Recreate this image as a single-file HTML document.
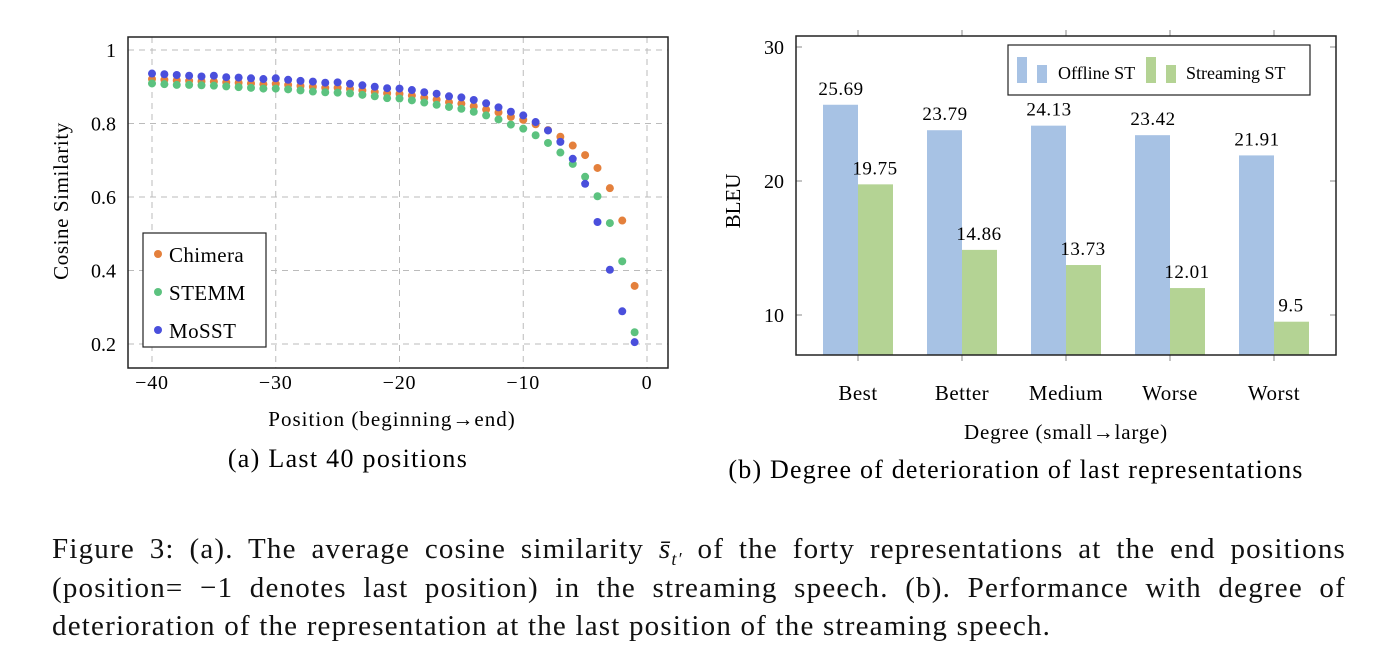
<!DOCTYPE html>
<html><head><meta charset="utf-8"><style>
body{margin:0;background:#fff;width:1396px;height:662px;overflow:hidden;font-family:"Liberation Serif",serif}
svg{position:absolute;left:0;top:0}
.cap{position:absolute;left:52px;width:1294px;top:530px;font-size:29px;letter-spacing:1.2px;line-height:38.5px;color:#111}
.cap div{height:38.5px;white-space:nowrap}
.j{text-align:justify;text-align-last:justify}
sub{font-size:18px;line-height:0}
</style></head><body>
<svg id="svg" width="1396" height="662" font-family="Liberation Serif, serif"></svg>
<div class="cap">
<div class="j">Figure 3: (a). The average cosine similarity <i>s̄<sub>t′</sub></i> of the forty representations at the end positions</div>
<div class="j">(position= −1 denotes last position) in the streaming speech. (b). Performance with degree of</div>
<div>deterioration of the representation at the last position of the streaming speech.</div>
</div>
<script>
const positions=[-40,-39,-38,-37,-36,-35,-34,-33,-32,-31,-30,-29,-28,-27,-26,-25,-24,-23,-22,-21,-20,-19,-18,-17,-16,-15,-14,-13,-12,-11,-10,-9,-8,-7,-6,-5,-4,-3,-2,-1];
const chimera=[.921,.919,.917,.916,.915,.914,.912,.911,.909,.907,.908,.905,.902,.900,.897,.897,.894,.890,.886,.882,.881,.876,.870,.865,.858,.854,.847,.838,.830,.818,.810,.798,.782,.764,.740,.714,.679,.624,.536,.358];
const stemm=[.909,.907,.905,.905,.904,.903,.901,.899,.897,.895,.895,.893,.890,.887,.885,.884,.882,.878,.874,.869,.868,.863,.857,.851,.845,.840,.832,.822,.811,.797,.786,.768,.747,.721,.690,.655,.602,.529,.425,.232];
const mosst=[.936,.934,.932,.930,.928,.930,.926,.925,.923,.921,.923,.919,.916,.914,.911,.912,.908,.904,.900,.896,.895,.891,.885,.881,.874,.871,.864,.855,.844,.832,.822,.804,.781,.750,.704,.636,.532,.402,.289,.205];
const xTicks=[-40,-30,-20,-10,0];
const xTickLabels=["−40","−30","−20","−10","0"];
const yTicks=[1,0.8,0.6,0.4,0.2];
const yTickLabels=["1","0.8","0.6","0.4","0.2"];
const categories=["Best","Better","Medium","Worse","Worst"];
const offline=[25.69,23.79,24.13,23.42,21.91];
const streaming=[19.75,14.86,13.73,12.01,9.5];
const bleuTicks=[10,20,30];

const S=document.getElementById('svg');const NS="http://www.w3.org/2000/svg";
function el(t,a,txt){const e=document.createElementNS(NS,t);for(const k in a)e.setAttribute(k,a[k]);if(txt!==undefined)e.textContent=txt;S.appendChild(e);return e;}
const ax=v=>152+(v+40)*(647-152)/40;
const ay=v=>50+(1-v)*(344-50)/0.8;
for(let i=0;i<xTicks.length;i++){
 const g=el('line',{x1:ax(xTicks[i]),x2:ax(xTicks[i]),y1:37,y2:368,stroke:'#bbb','stroke-dasharray':'6,5'});
 
 
 const t=el('text',{x:ax(xTicks[i]),y:389,'font-size':20,'text-anchor':'middle','letter-spacing':'0.8'},xTickLabels[i]);
 
 
}
for(let i=0;i<yTicks.length;i++){
 const g=el('line',{x1:128,x2:668,y1:ay(yTicks[i]),y2:ay(yTicks[i]),stroke:'#bbb','stroke-dasharray':'6,5'});
 
 
 const t=el('text',{x:116,y:ay(yTicks[i])+7,'font-size':20,'text-anchor':'end'},yTickLabels[i]);
 
 
}
const boxA=el('rect',{x:128,y:37,width:540,height:331,fill:'none',stroke:'#222','stroke-width':1.5});


const series=[[chimera,'#e4803c','chimera'],[stemm,'#5cc27f','stemm'],[mosst,'#4a4fdc','mosst']];
series.forEach(([d,c,n])=>{d.forEach((v,i)=>{const p=el('circle',{cx:ax(positions[i]),cy:ay(v),r:4,fill:c});
 
 });});
const lg=el('rect',{x:143,y:233,width:123,height:114,fill:'#fff',stroke:'#222','stroke-width':1.2});


[['Chimera','#e4803c',256],['STEMM','#5cc27f',294],['MoSST','#4a4fdc',332]].forEach(([n,c,y])=>{
 const d=el('circle',{cx:158,cy:y-2,r:4,fill:c});
 const t=el('text',{x:169,y:y+6,'font-size':21,'letter-spacing':'0.4'},n);
});
let t;
t=el('text',{x:0,y:0,'font-size':21,'letter-spacing':'0.6','text-anchor':'middle',transform:'translate(68,201) rotate(-90)'},'Cosine Similarity');
t=el('text',{x:392,y:426,'font-size':21,'letter-spacing':'1','text-anchor':'middle'},'Position (beginning→end)');
t=el('text',{x:348,y:467,'font-size':26,'letter-spacing':'1.3','text-anchor':'middle'},'(a) Last 40 positions');
const bx=i=>858+i*104;
const by=v=>181-(v-20)*13.4;
const baseY=355;
categories.forEach((c,i)=>{
 const r1=el('rect',{x:bx(i)-35,y:by(offline[i]),width:35,height:baseY-by(offline[i]),fill:'#a7c2e4'});
 
 const r2=el('rect',{x:bx(i),y:by(streaming[i]),width:35,height:baseY-by(streaming[i]),fill:'#b4d394'});
 
 let l=el('text',{x:bx(i)-17,y:by(offline[i])-10,'font-size':19,'text-anchor':'middle','letter-spacing':'0.5'},String(offline[i]));
 
 l=el('text',{x:bx(i)+17,y:by(streaming[i])-10,'font-size':19,'text-anchor':'middle','letter-spacing':'0.5'},String(streaming[i]));
 
 const tk=el('line',{x1:bx(i),x2:bx(i),y1:355,y2:361,stroke:'#888'});
 const tk2=el('line',{x1:bx(i),x2:bx(i),y1:30,y2:36,stroke:'#888'});
 l=el('text',{x:bx(i),y:400,'font-size':21,'letter-spacing':'0.5','text-anchor':'middle'},c);
 
});
bleuTicks.forEach(v=>{
 const a=el('line',{x1:796,x2:802,y1:by(v),y2:by(v),stroke:'#888'});
 const b=el('line',{x1:1330,x2:1336,y1:by(v),y2:by(v),stroke:'#888'});
 const l=el('text',{x:784,y:by(v)+7,'font-size':20,'text-anchor':'end'},String(v));
});
const boxB=el('rect',{x:796,y:36,width:540,height:319,fill:'none',stroke:'#222','stroke-width':1.5});

const lg2=el('rect',{x:1008,y:45,width:302,height:50,fill:'#fff',stroke:'#222','stroke-width':1.2});

[[1017,'#a7c2e4','Offline ST',1058],[1146,'#b4d394','Streaming ST',1186]].forEach(([x,c,n,tx])=>{
 let r=el('rect',{x:x,y:57,width:10,height:26,fill:c});
 r=el('rect',{x:x+20,y:65,width:10,height:18,fill:c});
 const l=el('text',{x:tx,y:79,'font-size':18},n);
});
t=el('text',{x:0,y:0,'font-size':21,'text-anchor':'middle',transform:'translate(740,201) rotate(-90)'},'BLEU');
t=el('text',{x:1066,y:439,'font-size':21,'letter-spacing':'0.8','text-anchor':'middle'},'Degree (small→large)');
t=el('text',{x:1016,y:478,'font-size':26,'letter-spacing':'1.2','text-anchor':'middle'},'(b) Degree of deterioration of last representations');
</script>
</body></html>
